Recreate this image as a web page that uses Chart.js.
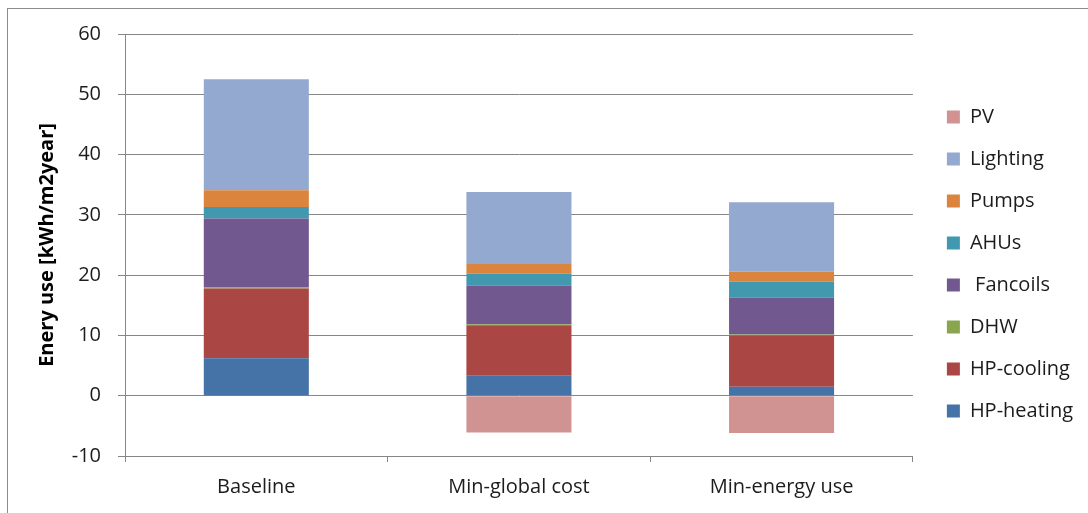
<!DOCTYPE html>
<html>
<head>
<meta charset="utf-8">
<script src="https://cdn.jsdelivr.net/npm/chart.js@4.4.1/dist/chart.umd.min.js"></script>
<style>
  html, body { margin: 0; padding: 0; background: #ffffff; }
  #wrap { position: relative; width: 1088px; height: 513px; overflow: hidden; }
  #frame { position: absolute; left: 7px; top: 8px; width: 1200px; height: 600px;
           border-top: 1px solid #8c8c8c; border-left: 1px solid #8c8c8c; }
  #c { position: absolute; left: 0; top: 0; }
</style>
</head>
<body>
<div id="wrap">
  <div id="frame"></div>
  <canvas id="c" width="1088" height="513"></canvas>
</div>
<script>
// Annual energy use per end use for the three design cases [kWh/m2year]
const categories = ['Baseline', 'Min-global cost', 'Min-energy use'];

const hpHeating = [6.2, 3.3, 1.5];
const hpCooling = [11.6, 8.4, 8.5];
const dhw       = [0.2, 0.15, 0.15];
const fancoils  = [11.4, 6.4, 6.1];
const ahus      = [1.9, 2.0, 2.7];
const pumps     = [2.8, 1.6, 1.65];
const lighting  = [18.4, 11.95, 11.5];
const pv        = [0, -6.1, -6.2];

const yTicks = [-10, 0, 10, 20, 30, 40, 50, 60];

const FONT = "'Open Sans', 'Noto Sans', sans-serif";
const GRID = '#868686';
const TEXT = '#1c1c1c';

const series = [
  { label: 'HP-heating', data: hpHeating, color: '#4572A7' },
  { label: 'HP-cooling', data: hpCooling, color: '#AA4643' },
  { label: 'DHW',        data: dhw,       color: '#89A54E' },
  { label: ' Fancoils',  data: fancoils,  color: '#71588F' },
  { label: 'AHUs',       data: ahus,      color: '#4198AF' },
  { label: 'Pumps',      data: pumps,     color: '#DB843D' },
  { label: 'Lighting',   data: lighting,  color: '#93A9CF' },
  { label: 'PV',         data: pv,        color: '#D19392' }
];

// empty spacer axis, used only to reserve room in the layout
const spacer = (pos, axis, size) => ({
  type: 'linear',
  axis: axis,
  position: pos,
  display: true,
  afterFit: s => { if (axis === 'x') s.height = size; else s.width = size; },
  grid: { display: false, drawTicks: false },
  border: { display: false },
  ticks: { display: false }
});

new Chart(document.getElementById('c'), {
  type: 'bar',
  data: {
    labels: categories,
    datasets: series.map(s => ({
      label: s.label,
      data: s.data,
      backgroundColor: s.color,
      borderWidth: 0,
      stack: 'energy',
      barPercentage: 0.4,
      categoryPercentage: 1.0
    }))
  },
  options: {
    responsive: false,
    animation: false,
    layout: { padding: { left: 0, right: 5, top: 27, bottom: 12 } },
    plugins: {
      tooltip: { enabled: false },
      legend: {
        position: 'right',
        reverse: true,
        labels: {
          color: TEXT,
          font: { family: FONT, size: 20 },
          boxWidth: 13,
          boxHeight: 13,
          padding: 22
        }
      }
    },
    scales: {
      x: {
        stacked: true,
        afterFit: s => { s.height = 45; },
        grid: { display: true, offset: true, drawOnChartArea: false, drawTicks: true,
                tickLength: 6, color: GRID, lineWidth: 1 },
        border: { display: true, color: GRID, width: 1 },
        ticks: { color: TEXT, font: { family: FONT, size: 20 }, padding: 13, maxRotation: 0 }
      },
      y: {
        stacked: true,
        min: -10,
        max: 60,
        afterFit: s => { s.width = 125; },
        afterBuildTicks: s => { s.ticks = yTicks.map(v => ({ value: v })); },
        grid: { color: GRID, lineWidth: 1, tickLength: 7, drawTicks: true },
        border: { display: true, color: GRID, width: 1 },
        ticks: { color: TEXT, font: { family: FONT, size: 20 }, padding: 17 },
        title: {
          display: true,
          text: 'Enery use [kWh/m2year]',
          color: '#000000',
          font: { family: FONT, size: 20, weight: 'bold' },
          padding: { top: 35, bottom: 0 }
        }
      },
      gapTop: spacer('top', 'x', 7),
      gapRight: spacer('right', 'y', 12)
    }
  }
});
</script>
</body>
</html>
